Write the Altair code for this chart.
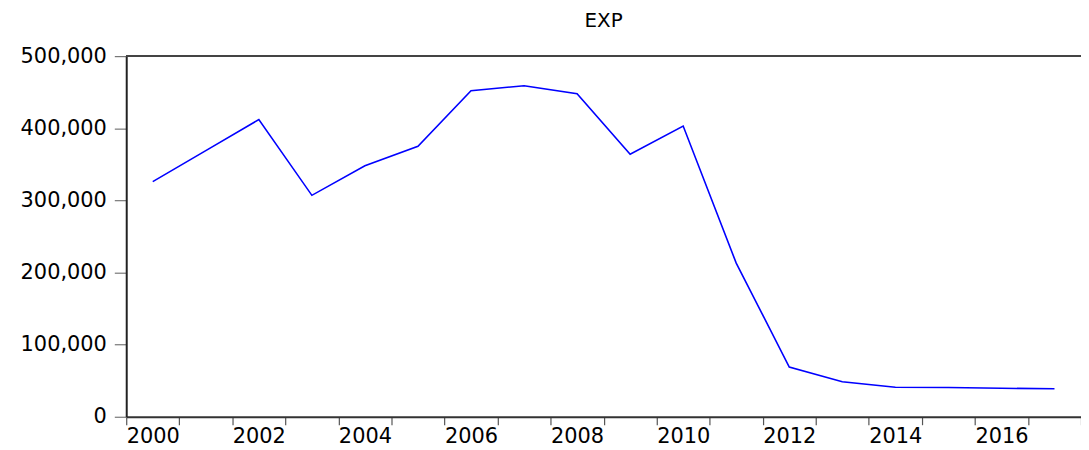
import altair as alt
import pandas as pd

years = list(range(2000, 2018))
values = [326000, 369000, 412000, 307000, 348000, 375000, 452000, 459000,
          448000, 364000, 403000, 213000, 69000, 48500, 41000, 40500, 39500, 38800]
y_ticks = [0, 100000, 200000, 300000, 400000, 500000]
x_ticks = list(range(2000, 2019))

df = pd.DataFrame({"year": years, "EXP": values})

FONT = "DejaVu Sans"
W, H = 961, 363

x_scale = alt.Scale(domain=[2000, 2018], nice=False, zero=False)
y_scale = alt.Scale(domain=[0, 500000], nice=False)

y_axis = alt.Axis(values=y_ticks, labelExpr="format(datum.value, ',')",
                  tickSize=12, tickColor="#777777", tickWidth=1.2,
                  domainColor="#222222", domainWidth=2, grid=False,
                  labelFont=FONT, labelFontSize=21, labelColor="black",
                  labelPadding=8)

line = alt.Chart(df).transform_calculate(
    xpos="datum.year + 0.5"
).mark_line(color="#0000FF", strokeWidth=1.6).encode(
    x=alt.X("xpos:Q", scale=x_scale, title=None,
            axis=alt.Axis(values=x_ticks, tickSize=8, tickColor="#555555",
                          tickWidth=1.2, domainColor="#333333", domainWidth=2,
                          grid=False, labelFont=FONT, labelFontSize=21,
                          labelColor="black", labelPadding=1,
                          labelOffset=W / 18 / 2, labelFlush=False,
                          labelOverlap=False,
                          labelExpr="(datum.value % 2 == 0 && datum.value < 2018) ? '' + datum.value : ''")),
    y=alt.Y("EXP:Q", scale=y_scale, title=None, axis=y_axis),
)

top = alt.Chart(df).mark_rule(color="#444444", strokeWidth=1.5).encode(
    y=alt.datum(500000, scale=y_scale, axis=y_axis)
)

chart = alt.layer(line, top).properties(
    width=W, height=H,
    title=alt.TitleParams("EXP", font=FONT, fontSize=20, fontWeight="normal",
                          color="black", anchor="middle", offset=14),
    autosize=alt.AutoSizeParams(type="none"),
    padding={"left": 119, "top": 47, "right": 0, "bottom": 30},
).configure_view(stroke=None)

chart.save("out.html", embed_options={"renderer": "svg", "actions": False})
